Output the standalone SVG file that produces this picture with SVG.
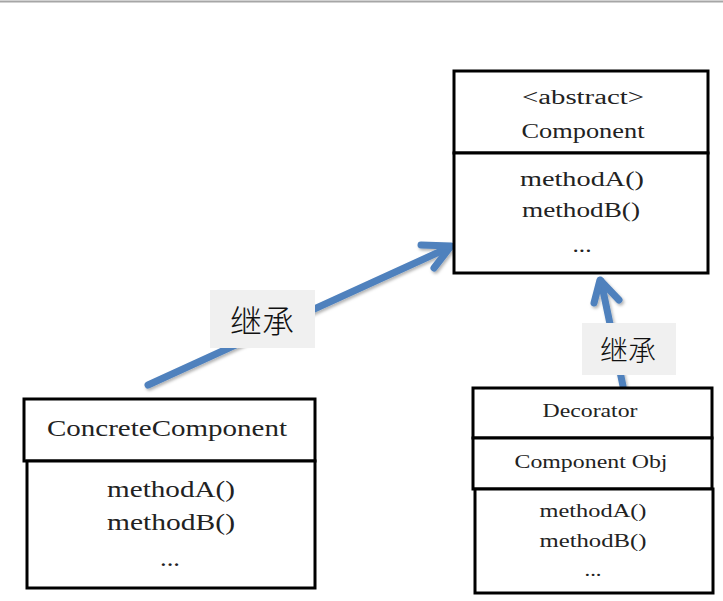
<svg xmlns="http://www.w3.org/2000/svg" width="723" height="601" viewBox="0 0 723 601">
<defs>
<filter id="sh" x="-20%" y="-20%" width="140%" height="140%">
<feDropShadow dx="1.5" dy="2" stdDeviation="1.5" flood-color="#000" flood-opacity="0.3"/>
</filter>
</defs>
<style>
.box{fill:#fff;stroke:#000;stroke-width:3}
.t{font-family:"Liberation Serif","Times New Roman",serif;fill:#222;text-anchor:middle}
.big{font-size:20px}
.cc{font-size:23px}
.sm{font-size:18px}
.lbl{fill:#f0f0f0}
.cjk{font-family:"Noto Sans CJK SC",sans-serif;font-weight:300;fill:#111;text-anchor:middle}
.conn{fill:none;stroke:#4f81bd;stroke-width:7;stroke-linecap:round;stroke-linejoin:round}
</style>
<rect x="0" y="0" width="723" height="601" fill="#fff"/>
<line x1="0" y1="1.5" x2="723" y2="1.5" stroke="#a6a6a6" stroke-width="2"/>
<g id="connectors">
<g filter="url(#sh)">
<path class="conn" d="M148,385 L450,247"/>
<path class="conn" d="M421,245 L451,246 L434,268"/>
<path class="conn" d="M623,386 L601,281"/>
<path class="conn" d="M594,303 L600,280 L619,300"/>
</g>
<g id="label1"><rect class="lbl" x="210" y="290" width="105" height="58"/><text class="cjk" x="262" y="333" font-size="32">继承</text></g>
<g id="label2"><rect class="lbl" x="582" y="323" width="94" height="52"/><text class="cjk" x="628" y="361" font-size="28">继承</text></g>
</g>
<g id="component">
<rect class="box" x="454" y="71" width="254" height="82"/>
<rect class="box" x="454" y="153" width="254" height="120"/>
<text class="t big" x="583" y="104" textLength="122" lengthAdjust="spacingAndGlyphs">&lt;abstract&gt;</text>
<text class="t big" x="583" y="138" textLength="123" lengthAdjust="spacingAndGlyphs">Component</text>
<text class="t big" x="582" y="186" textLength="124" lengthAdjust="spacingAndGlyphs">methodA()</text>
<text class="t big" x="581" y="217" textLength="118" lengthAdjust="spacingAndGlyphs">methodB()</text>
<text class="t big" x="582" y="252" textLength="19" lengthAdjust="spacingAndGlyphs">...</text>
</g>
<g id="concreteComponent">
<rect class="box" x="24" y="399" width="291" height="62"/>
<rect class="box" x="27" y="461" width="288" height="127"/>
<text class="t cc" x="167" y="436" textLength="240" lengthAdjust="spacingAndGlyphs">ConcreteComponent</text>
<text class="t cc" x="171" y="497" textLength="128" lengthAdjust="spacingAndGlyphs">methodA()</text>
<text class="t cc" x="171" y="530" textLength="128" lengthAdjust="spacingAndGlyphs">methodB()</text>
<text class="t cc" x="170" y="566" textLength="20" lengthAdjust="spacingAndGlyphs">...</text>
</g>
<g id="decorator">
<rect class="box" x="473" y="388" width="239" height="50"/>
<rect class="box" x="473" y="438" width="239" height="51"/>
<rect class="box" x="475" y="489" width="238" height="104"/>
<text class="t sm" x="590" y="417" textLength="95" lengthAdjust="spacingAndGlyphs">Decorator</text>
<text class="t sm" x="591" y="468" textLength="153" lengthAdjust="spacingAndGlyphs">Component Obj</text>
<text class="t sm" x="593" y="517" textLength="107" lengthAdjust="spacingAndGlyphs">methodA()</text>
<text class="t sm" x="593" y="547" textLength="107" lengthAdjust="spacingAndGlyphs">methodB()</text>
<text class="t sm" x="593" y="576" textLength="17" lengthAdjust="spacingAndGlyphs">...</text>
</g>
</svg>
